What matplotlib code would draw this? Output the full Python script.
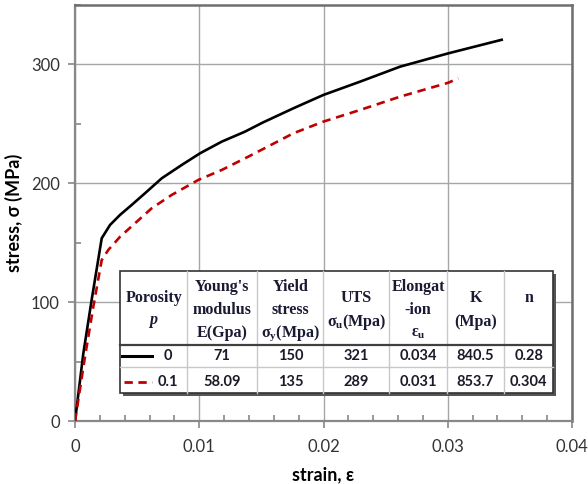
import matplotlib
matplotlib.use("Agg")
import matplotlib.pyplot as plt
import matplotlib.transforms as mtransforms
from matplotlib.patches import Rectangle
from matplotlib.lines import Line2D
from matplotlib.ticker import MultipleLocator

# ---------------- data ----------------
strain_p0 = [0, 0.00067, 0.00134, 0.00215, 0.00282, 0.00362, 0.00456, 0.00563,
             0.00698, 0.00859, 0.01006, 0.01181, 0.01368, 0.0151, 0.01757,
             0.01998, 0.02294, 0.02616, 0.03004, 0.03434]
stress_p0 = [0, 57, 102, 153.8, 165, 173.4, 181.8, 191.6,
             204.2, 215.4, 225.2, 235, 243.4, 251, 263,
             274.2, 285.4, 298, 309.2, 320.6]

strain_p01 = [0, 0.0008, 0.00147, 0.00215, 0.00268, 0.00362, 0.00483, 0.00617,
              0.00778, 0.00992, 0.01181, 0.01395, 0.0161, 0.01757, 0.01998,
              0.02294, 0.02616, 0.03004, 0.03085]
stress_p01 = [0, 54, 96, 135.5, 144, 155, 166.4, 179,
              190.2, 202.8, 211.2, 222.4, 234, 242, 251.8,
              261.6, 272.8, 284.5, 288.2]

x_ticks = [0, 0.01, 0.02, 0.03, 0.04]
x_tick_labels = ["0", "0.01", "0.02", "0.03", "0.04"]
y_ticks = [0, 100, 200, 300]
y_tick_labels = ["0", "100", "200", "300"]

porosity = ["0", "0.1"]
youngs = ["71", "58.09"]
yield_stress = ["150", "135"]
uts = ["321", "289"]
elongation = ["0.034", "0.031"]
k_vals = ["840.5", "853.7"]
n_vals = ["0.28", "0.304"]

header_lines = [
    ["Porosity", r"$\mathit{p}$"],
    ["Young's", "modulus", "E(Gpa)"],
    ["Yield", "stress", r"$\mathrm{\sigma_y}$(Mpa)"],
    ["UTS", r"$\mathrm{\sigma_u}$(Mpa)"],
    ["Elongat", "-ion", r"$\mathrm{\varepsilon_u}$"],
    ["K", "(Mpa)"],
    ["n", ""],
]

# ---------------- style ----------------
plt.rcParams['mathtext.fontset'] = 'custom'
plt.rcParams['mathtext.rm'] = 'Liberation Serif:bold'
plt.rcParams['mathtext.it'] = 'Liberation Serif:bold:italic'
plt.rcParams['mathtext.bf'] = 'Liberation Serif:bold'

SANS = ['Lato', 'DejaVu Sans']
W, H = 588, 484
fig = plt.figure(figsize=(W / 100, H / 100), dpi=100)
ax = fig.add_axes([75 / W, 1 - 421.3 / H, (572 - 75) / W, (421.3 - 4.8) / H])

ax.plot(strain_p0, stress_p0, color='black', lw=1.9, solid_joinstyle='round', zorder=3)
ax.plot(strain_p01, stress_p01, color='#c00000', lw=1.9, dashes=(3.2, 2.2), zorder=4)

ax.set_xlim(0, 0.04)
ax.set_ylim(0, 350)
ax.set_xticks(x_ticks)
ax.set_xticklabels(x_tick_labels)
ax.set_yticks(y_ticks)
ax.set_yticklabels(y_tick_labels)
ax.xaxis.set_minor_locator(MultipleLocator(0.002))
ax.yaxis.set_minor_locator(MultipleLocator(50))
ax.grid(True, which='major', color='#a6a6a6', lw=1.0, zorder=0)
ax.set_axisbelow(True)

ax.tick_params(which='major', direction='out', length=5, width=1.2, color='#888888',
               labelsize=12, labelcolor='#333333', pad=6)
ax.tick_params(which='minor', direction='in', length=4, width=1.2, color='#888888')
ax.tick_params(axis='x', which='major', pad=8)
for lab in ax.get_xticklabels() + ax.get_yticklabels():
    lab.set_family(SANS)

for s in ['left', 'bottom']:
    ax.spines[s].set_color('#888888')
    ax.spines[s].set_linewidth(1.6)
for s in ['top', 'right']:
    ax.spines[s].set_color('#6e6e6e')
    ax.spines[s].set_linewidth(1.8)

ax.set_xlabel("strain, ε", fontsize=13, fontweight='bold', family=SANS, labelpad=8)
ax.set_ylabel("stress, σ (MPa)", fontsize=13, fontweight='bold', family=SANS, labelpad=6)

# ---------------- table (pixel coordinates, origin top-left) ----------------
pix = mtransforms.Affine2D().scale(1 / W, -1 / H).translate(0, 1) + fig.transFigure

tl, tr, tt, tb = 120, 553, 271, 393
col_edges = [120, 187.3, 257.3, 323.3, 389.3, 446.7, 504.3, 553.3]
row_head_bottom = 345
row1_bottom = 367

fig.patches.append(Rectangle((tl + 3, tb + 3), tr - tl, -(tb - tt), transform=pix,
                             facecolor='#555555', edgecolor='none', zorder=10))
fig.patches.append(Rectangle((tl, tb), tr - tl, -(tb - tt), transform=pix,
                             facecolor='white', edgecolor='#333333', lw=1.2, zorder=11))
for xe in col_edges[1:-1]:
    fig.lines.append(Line2D([xe, xe], [tt, tb], transform=pix, color='#c8c8c8', lw=1.0, zorder=12))
fig.lines.append(Line2D([tl, tr], [row_head_bottom, row_head_bottom], transform=pix,
                        color='#404040', lw=1.6, zorder=13))
fig.lines.append(Line2D([tl, tr], [row1_bottom, row1_bottom], transform=pix,
                        color='#c8c8c8', lw=1.0, zorder=13))

head_kw = dict(transform=pix, ha='center', va='center', fontsize=11.5, fontweight='bold',
               family='Liberation Serif', color='#1a1a33', zorder=14)
line_step = 23.3
for i, lines in enumerate(header_lines):
    cx = (col_edges[i] + col_edges[i + 1]) / 2
    n = len(lines)
    y0 = 310 - (n - 1) * line_step / 2
    for j, txt in enumerate(lines):
        if txt:
            fig.text(cx, y0 + j * line_step, txt, **head_kw)

row_y = [355.5, 381.5]
cell_kw = dict(transform=pix, ha='center', va='center', fontsize=10.5, fontweight='bold',
               family=SANS, color='#1a1a2a', zorder=14)
columns = [youngs, yield_stress, uts, elongation, k_vals, n_vals]
for r in range(2):
    for c, colvals in enumerate(columns):
        cx = (col_edges[c + 1] + col_edges[c + 2]) / 2
        fig.text(cx, row_y[r], colvals[r], **cell_kw)
    fig.text(168, row_y[r], porosity[r], **cell_kw)

fig.lines.append(Line2D([122, 151.5], [row_y[0], row_y[0]], transform=pix, color='black',
                        lw=2.2, zorder=14))
fig.lines.append(Line2D([124, 151.5], [row_y[1], row_y[1]], transform=pix, color='#c00000',
                        lw=2.0, dashes=(3, 2), zorder=14))

fig.savefig("out.png", dpi=100)
